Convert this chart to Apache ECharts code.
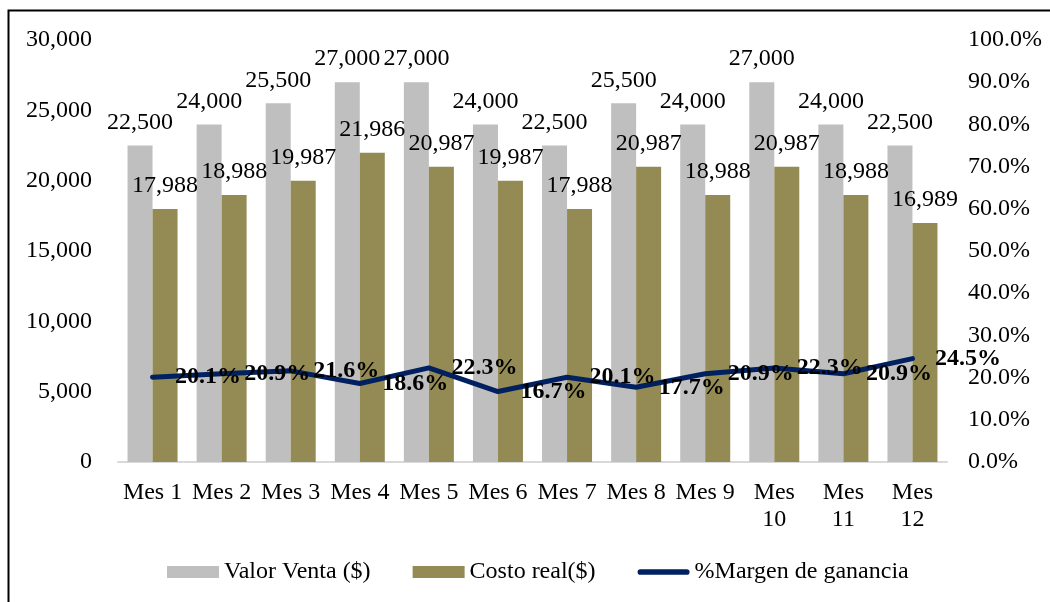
<!DOCTYPE html>
<html>
<head>
<meta charset="utf-8">
<script src="https://cdn.jsdelivr.net/npm/echarts@6/dist/echarts.min.js"></script>
<style>
  html, body { margin: 0; padding: 0; background: #fff; }
  #chart { width: 1050px; height: 602px; }
</style>
</head>
<body>
<div id="chart"></div>
<script>
// datos del grafico
var meses = ['Mes 1', 'Mes 2', 'Mes 3', 'Mes 4', 'Mes 5', 'Mes 6', 'Mes 7', 'Mes 8', 'Mes 9', 'Mes 10', 'Mes 11', 'Mes 12']
var valorVenta = [22500, 24000, 25500, 27000, 27000, 24000, 22500, 25500, 24000, 27000, 24000, 22500]
var costoReal = [17988, 18988, 19987, 21986, 20987, 19987, 17988, 20987, 18988, 20987, 18988, 16989]
var margen = [20.1, 20.9, 21.6, 18.6, 22.3, 16.7, 20.1, 17.7, 20.9, 22.3, 20.9, 24.5]

var fuente = '"Liberation Serif", "Times New Roman", serif'

function miles (v) {
  return String(v).replace(/\B(?=(\d{3})+(?!\d))/g, ',')
}

var myChart = echarts.init(document.getElementById('chart'))
myChart.setOption({
  animation: false,
  textStyle: { fontFamily: fuente, color: '#000' },
  grid: { left: 118, right: 103, top: 40, bottom: 140 },
  // marco exterior
  graphic: [{
    type: 'rect',
    shape: { x: 8.5, y: 10.5, width: 1100, height: 700 },
    style: { fill: 'none', stroke: '#000', lineWidth: 2 },
    silent: true
  }],
  legend: {
    left: 162,
    top: 555,
    itemWidth: 52,
    itemHeight: 12,
    itemGap: 42,
    textStyle: { fontFamily: fuente, fontSize: 24, color: '#000' },
    data: [
      { name: 'Valor Venta ($)', icon: 'rect' },
      { name: 'Costo real($)', icon: 'rect' },
      { name: '%Margen de ganancia', icon: 'path://M3,0 L52,0 A3,3 0 0 1 52,6 L3,6 A3,3 0 0 1 3,0 Z' }
    ]
  },
  xAxis: {
    type: 'category',
    data: meses,
    axisLine: { lineStyle: { color: '#d9d9d9', width: 2 } },
    axisTick: { show: false },
    axisLabel: {
      margin: 17,
      fontFamily: fuente,
      fontSize: 24,
      color: '#000',
      lineHeight: 27,
      interval: 0,
      formatter: function (v) { return v.length > 5 ? v.replace(' ', '\n') : v }
    }
  },
  yAxis: [
    {
      type: 'value',
      min: 0,
      max: 30000,
      interval: 5000,
      splitLine: { show: false },
      axisLine: { show: false },
      axisTick: { show: false },
      axisLabel: {
        margin: 26,
        fontFamily: fuente,
        fontSize: 24,
        color: '#000',
        formatter: function (v) { return miles(v) }
      }
    },
    {
      type: 'value',
      min: 0,
      max: 100,
      interval: 10,
      splitLine: { show: false },
      axisLine: { show: false },
      axisTick: { show: false },
      axisLabel: {
        margin: 21,
        fontFamily: fuente,
        fontSize: 24,
        color: '#000',
        formatter: function (v) { return v.toFixed(1) + '%' }
      }
    }
  ],
  series: [
    {
      name: 'Valor Venta ($)',
      type: 'bar',
      barWidth: 25,
      barGap: '0%',
      itemStyle: { color: '#bfbfbf' },
      label: {
        show: true,
        position: 'top',
        distance: 11,
        fontFamily: fuente,
        fontSize: 24,
        color: '#000',
        formatter: function (p) { return miles(p.value) }
      },
      data: valorVenta
    },
    {
      name: 'Costo real($)',
      type: 'bar',
      barWidth: 25,
      barGap: '0%',
      itemStyle: { color: '#948a54' },
      label: {
        show: true,
        position: 'top',
        distance: 11,
        fontFamily: fuente,
        fontSize: 24,
        color: '#000',
        formatter: function (p) { return miles(p.value) }
      },
      data: costoReal
    },
    {
      name: '%Margen de ganancia',
      type: 'line',
      yAxisIndex: 1,
      symbol: 'circle',
      symbolSize: 1,
      itemStyle: { color: '#002060' },
      lineStyle: { color: '#002060', width: 5, cap: 'round', join: 'round' },
      label: {
        show: true,
        position: 'right',
        distance: 22,
        fontFamily: fuente,
        fontSize: 24,
        fontWeight: 'bold',
        color: '#000',
        formatter: function (p) { return p.value.toFixed(1) + '%' }
      },
      z: 5,
      data: margen
    }
  ]
})
</script>
</body>
</html>
